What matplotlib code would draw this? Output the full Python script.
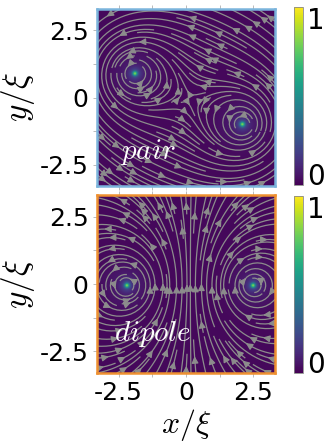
import numpy as np
import matplotlib
matplotlib.use("Agg")
import matplotlib.pyplot as plt

plt.rcParams["mathtext.fontset"] = "cm"

# ---- data ----
panel_names = ["pair", "dipole"]
pair_x = [-1.9, 2.1]
pair_y = [0.9, -1.0]
pair_charge = [1.0, 1.0]
dipole_x = [-2.2, 2.5]
dipole_y = [-0.05, -0.05]
dipole_charge = [1.0, -1.0]
core_peak = [0.6, 0.6]            # colour value at the vortex cores
frame_colors = ["#7ab4dc", "#ee9030"]
tick_vals = [-2.5, 0, 2.5]
tick_labels = ["-2.5", "0", "2.5"]
minor_vals = [-1.25, 1.25]
cbar_ticks = [0, 1]
cbar_labels = ["0", "1"]

W, H = 327, 443
fig = plt.figure(figsize=(W / 100, H / 100), dpi=100)

L = 3.3
n = 220
xs = np.linspace(-L, L, n)
X, Y = np.meshgrid(xs, xs)

def field(vx, vy, q, peak):
    U = np.zeros_like(X)
    V = np.zeros_like(X)
    D = np.zeros_like(X) + 0.02
    mask = np.zeros_like(X, dtype=bool)
    for x0, y0, c in zip(vx, vy, q):
        dx, dy = X - x0, Y - y0
        r2 = dx**2 + dy**2
        U += -c * dy / (r2 + 0.01)
        V += c * dx / (r2 + 0.01)
        D += peak * np.exp(-r2 / (2 * 0.06**2)) + 0.16 * np.exp(-r2 / (2 * 0.17**2)) \
            + 0.06 * np.exp(-r2 / (2 * 0.6**2))
        mask |= r2 < 0.24**2
    U = np.ma.masked_where(mask, U)
    V = np.ma.masked_where(mask, V)
    return U, V, D

panels = [(pair_x, pair_y, pair_charge), (dipole_x, dipole_y, dipole_charge)]
ax_rects = [(97, 9, 275, 186), (97, 195, 275, 373)]
cb_rects = [(294, 7, 303, 185), (294, 196, 303, 373)]
text_pos = [(-1.42, -2.05), (-1.24, -1.87)]

for i, (vx, vy, q) in enumerate(panels):
    x0, y0, x1, y1 = ax_rects[i]
    ax = fig.add_axes([x0 / W, 1 - y1 / H, (x1 - x0) / W, (y1 - y0) / H])
    U, V, D = field(vx, vy, q, core_peak[i])
    im = ax.imshow(D, extent=[-L, L, -L, L], origin="lower", cmap="viridis",
                   vmin=0, vmax=1, interpolation="bilinear", aspect="auto")
    ax.streamplot(xs, xs, U, V, color="#8c8c8c", density=1.25, linewidth=0.9,
                  arrowsize=1.0)
    ax.set_xlim(-L, L)
    ax.set_ylim(-L, L)
    for s in ax.spines.values():
        s.set_color(frame_colors[i])
        s.set_linewidth(1.8)
    ax.set_xticks(tick_vals)
    ax.set_xticks(minor_vals, minor=True)
    ax.set_yticks(tick_vals)
    ax.set_yticks(minor_vals, minor=True)
    ax.set_yticklabels(tick_labels, fontsize=18)
    ax.tick_params(which="both", color="#b0b0b0", length=3, width=0.6,
                   top=True, bottom=True, left=True, right=False, pad=3)
    if i == 1:
        ax.set_xticklabels(tick_labels, fontsize=18)
        ax.set_xlabel(r"$x/\xi$", fontsize=23, labelpad=1)
    else:
        ax.set_xticklabels([])
    ax.set_ylabel(r"$y/\xi$", fontsize=24, labelpad=2)
    ax.text(text_pos[i][0], text_pos[i][1], r"$%s$" % panel_names[i],
            color="white", fontsize=21, ha="center", va="center")

    cx0, cy0, cx1, cy1 = cb_rects[i]
    cax = fig.add_axes([cx0 / W, 1 - cy1 / H, (cx1 - cx0) / W, (cy1 - cy0) / H])
    cb = fig.colorbar(im, cax=cax)
    cb.set_ticks(cbar_ticks)
    cb.set_ticklabels(cbar_labels)
    cb.ax.tick_params(labelsize=20, length=0, pad=3)
    labs = cb.ax.get_yticklabels()
    labs[0].set_va("baseline")
    labs[1].set_va("top")
    cb.outline.set_edgecolor("#888888")
    cb.outline.set_linewidth(0.6)

fig.savefig("out.png", dpi=100)
